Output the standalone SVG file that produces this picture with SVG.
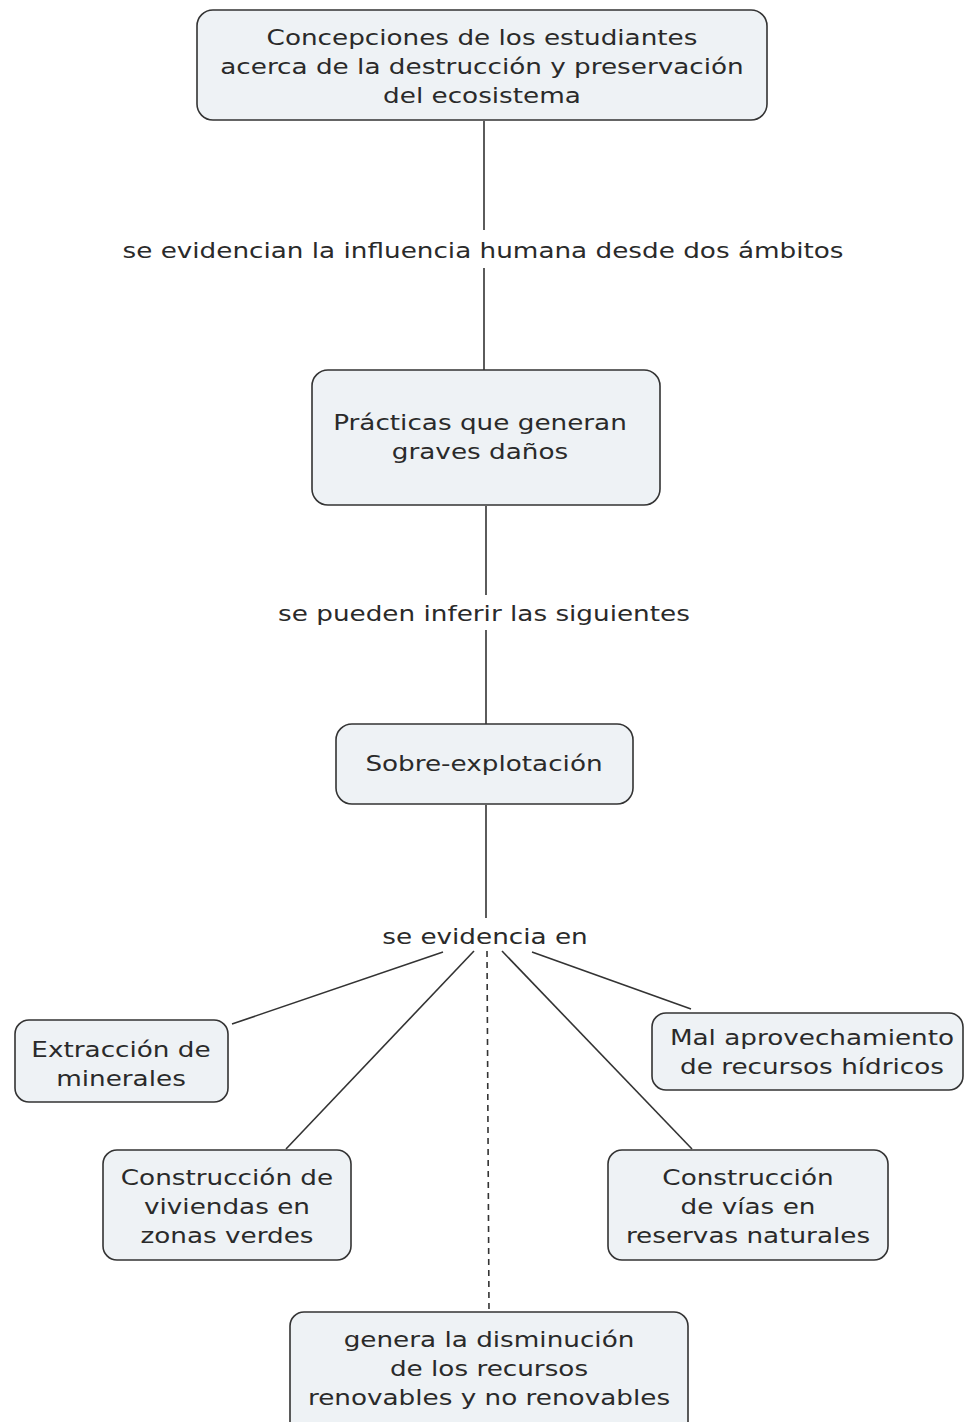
<svg xmlns="http://www.w3.org/2000/svg" width="965" height="1422" viewBox="0 0 965 1422">
  <style>
    .node rect { fill: #eef2f5; stroke: #333; stroke-width: 1.6; }
    .node text, .label {
      font-family: "DejaVu Sans", Verdana, sans-serif; font-size: 21px; fill: #2a2a2a; text-anchor: middle;
      transform-box: fill-box; transform-origin: center; transform: scaleX(1.25);
    }
    .links line { stroke: #333; stroke-width: 1.6; fill: none; }
    .links line.dash { stroke-dasharray: 6 5; }
  </style>
  <rect width="965" height="1422" fill="#ffffff"/>

  <g class="links" id="connectors">
    <line x1="484" y1="121" x2="484" y2="230"/>
    <line x1="484" y1="268" x2="484" y2="370"/>
    <line x1="486" y1="506" x2="486" y2="595"/>
    <line x1="486" y1="630" x2="486" y2="724"/>
    <line x1="486" y1="805" x2="486" y2="918"/>
    <line x1="443" y1="952" x2="232" y2="1024"/>
    <line x1="474" y1="951" x2="286" y2="1149"/>
    <line class="dash" x1="487" y1="951" x2="489" y2="1311"/>
    <line x1="502" y1="951" x2="692" y2="1149"/>
    <line x1="532" y1="952" x2="691" y2="1009"/>
  </g>

  <g id="link-labels">
    <text class="label" x="483" y="258">se evidencian la influencia humana desde dos ámbitos</text>
    <text class="label" x="484" y="621">se pueden inferir las siguientes</text>
    <text class="label" x="485" y="944">se evidencia en</text>
  </g>

  <g class="node" id="concepciones">
    <rect x="197" y="10" width="570" height="110" rx="16"/>
    <text x="482" y="45">Concepciones de los estudiantes</text>
    <text x="482" y="74">acerca de la destrucción y preservación</text>
    <text x="482" y="103">del ecosistema</text>
  </g>

  <g class="node" id="practicas">
    <rect x="312" y="370" width="348" height="135" rx="16"/>
    <text x="480" y="430">Prácticas que generan</text>
    <text x="480" y="459">graves daños</text>
  </g>

  <g class="node" id="sobreexplotacion">
    <rect x="336" y="724" width="297" height="80" rx="16"/>
    <text x="484" y="771">Sobre-explotación</text>
  </g>

  <g class="node" id="extraccion">
    <rect x="15" y="1020" width="213" height="82" rx="14"/>
    <text x="121" y="1057">Extracción de</text>
    <text x="121" y="1086">minerales</text>
  </g>

  <g class="node" id="agua">
    <rect x="652" y="1013" width="311" height="77" rx="14"/>
    <text x="812" y="1045">Mal aprovechamiento</text>
    <text x="812" y="1074">de recursos hídricos</text>
  </g>

  <g class="node" id="viviendas">
    <rect x="103" y="1150" width="248" height="110" rx="14"/>
    <text x="227" y="1185">Construcción de</text>
    <text x="227" y="1214">viviendas en</text>
    <text x="227" y="1243">zonas verdes</text>
  </g>

  <g class="node" id="vias">
    <rect x="608" y="1150" width="280" height="110" rx="14"/>
    <text x="748" y="1185">Construcción</text>
    <text x="748" y="1214">de vías en</text>
    <text x="748" y="1243">reservas naturales</text>
  </g>

  <g class="node" id="disminucion">
    <rect x="290" y="1312" width="398" height="125" rx="14"/>
    <text x="489" y="1347">genera la disminución</text>
    <text x="489" y="1376">de los recursos</text>
    <text x="489" y="1405">renovables y no renovables</text>
  </g>
</svg>
